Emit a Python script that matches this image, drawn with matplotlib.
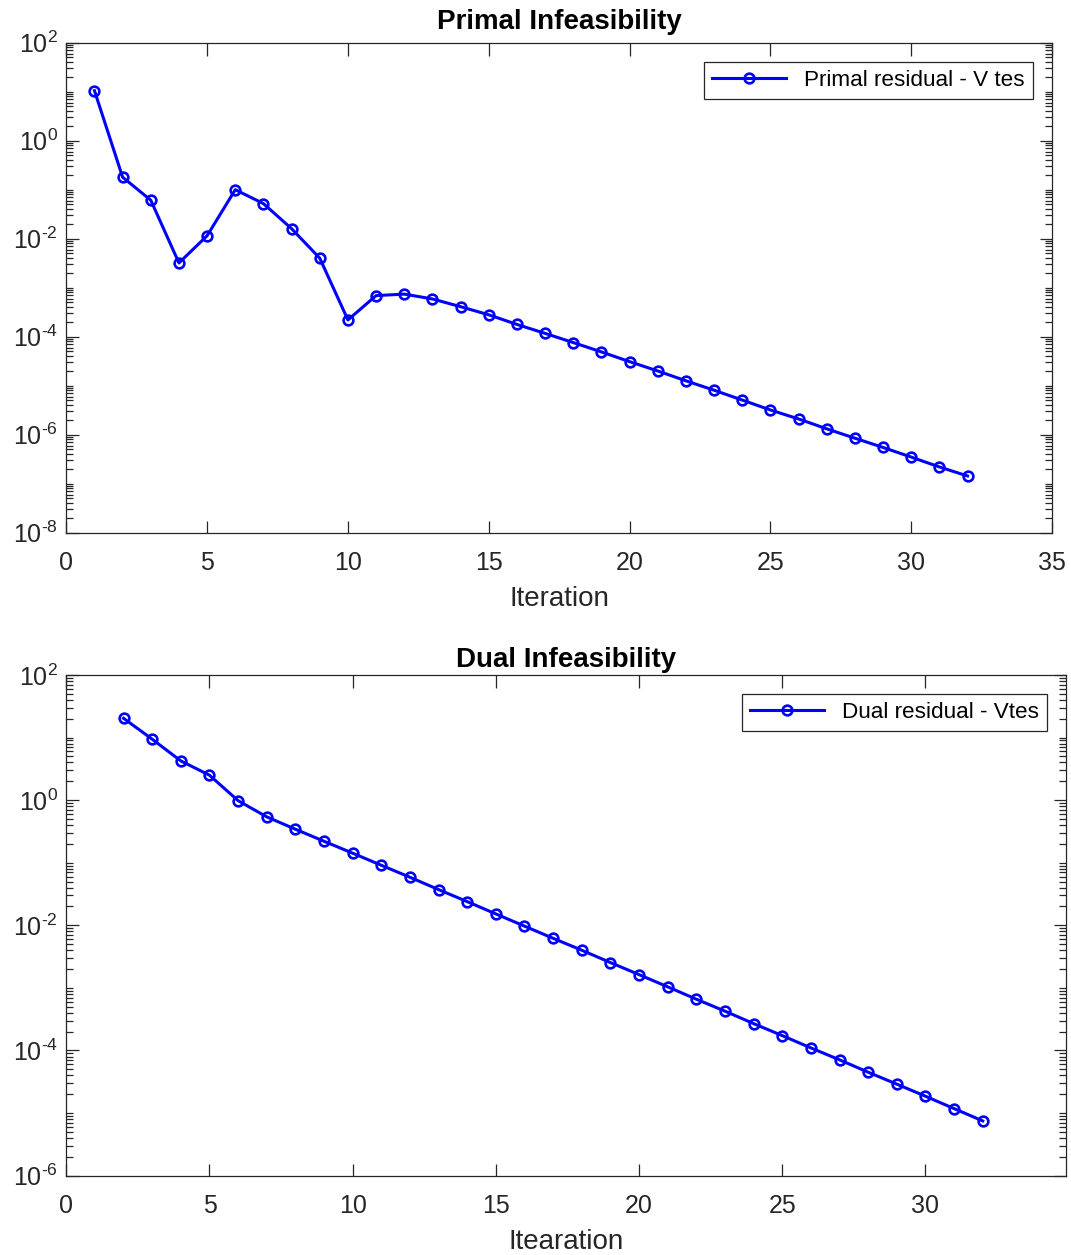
import numpy as np
import matplotlib
matplotlib.use('Agg')
import matplotlib.pyplot as plt
from matplotlib.ticker import FixedLocator, FuncFormatter, NullFormatter

plt.rcParams['font.family'] = ['Liberation Sans', 'DejaVu Sans']
plt.rcParams['mathtext.fontset'] = 'custom'
plt.rcParams['mathtext.rm'] = 'Liberation Sans'
plt.rcParams['mathtext.it'] = 'Liberation Sans:italic'
plt.rcParams['mathtext.bf'] = 'Liberation Sans:bold'
plt.rcParams['axes.unicode_minus'] = False

# residuos
iter_primal = np.arange(1, 33)
primal_res = [10.5, 0.18, 0.061, 0.0032, 0.0115, 0.1, 0.052, 0.016, 0.004, 2.2e-4,
              6.9e-4, 7.4e-4, 5.9e-4, 4.1e-4, 2.8e-4, 1.78e-4, 1.17e-4, 7.6e-5,
              4.9e-5, 3.1e-5, 2.0e-5, 1.26e-5, 8.1e-6, 5.1e-6, 3.2e-6, 2.1e-6,
              1.32e-6, 8.5e-7, 5.5e-7, 3.5e-7, 2.2e-7, 1.44e-7]

iter_dual = np.arange(2, 33)
dual_res = [20.3, 9.4, 4.23, 2.5, 0.98, 0.54, 0.343, 0.22, 0.142, 0.091, 0.0586,
            0.0372, 0.0239, 0.0152, 9.7e-3, 6.2e-3, 4.0e-3, 2.54e-3, 1.63e-3,
            1.04e-3, 6.6e-4, 4.25e-4, 2.69e-4, 1.73e-4, 1.10e-4, 7.1e-5, 4.5e-5,
            2.9e-5, 1.86e-5, 1.18e-5, 7.5e-6]

axcol = '#262626'


def rotulo_log(v, pos):
    e = int(round(np.log10(v)))
    return r'$\mathdefault{10^{\text{%d}}}$' % e


def estilo(ax, ymin_exp, ymax_exp, xlim, xticks):
    ax.set_yscale('log')
    ax.set_ylim(10.0**ymin_exp, 10.0**ymax_exp)
    ax.set_xlim(*xlim)
    ax.set_xticks(xticks)
    maiores = [10.0**e for e in range(ymin_exp, ymax_exp + 1, 2)]
    ax.yaxis.set_major_locator(FixedLocator(maiores))
    ax.yaxis.set_major_formatter(FuncFormatter(rotulo_log))
    menores = [m * 10.0**e for e in range(ymin_exp, ymax_exp) for m in range(1, 10)]
    menores = [v for v in menores if v not in maiores]
    ax.yaxis.set_minor_locator(FixedLocator(menores))
    ax.yaxis.set_minor_formatter(NullFormatter())
    ax.tick_params(which='both', direction='in', top=True, right=True, colors=axcol,
                   labelsize=18, width=0.9)
    ax.tick_params(which='major', length=9)
    ax.tick_params(which='minor', length=5)
    ax.tick_params(axis='x', pad=13)
    ax.tick_params(axis='y', pad=6)
    for s in ax.spines.values():
        s.set_color(axcol)
        s.set_linewidth(0.9)


fig = plt.figure(figsize=(10.71, 12.55), dpi=100)

ax1 = fig.add_axes([0.0619, 0.5755, 0.9204, 0.3905])
ax1.plot(iter_primal, primal_res, '-o', color='blue', lw=2.2, ms=7, mew=1.9,
         mfc='none', label='Primal residual - V tes')
estilo(ax1, -8, 2, (0, 35), range(0, 36, 5))
ax1.set_title('Primal Infeasibility', fontsize=20, fontweight='bold', pad=10)
ax1.set_xlabel('Iteration', fontsize=20, color=axcol, labelpad=8)
leg1 = ax1.legend(loc='upper right', fontsize=16.2, handlelength=3.3, fancybox=False,
                  framealpha=1, edgecolor=axcol, borderaxespad=0.85, borderpad=0.35)
leg1.get_frame().set_linewidth(0.9)

ax2 = fig.add_axes([0.0619, 0.0632, 0.9332, 0.399])
ax2.plot(iter_dual, dual_res, '-o', color='blue', lw=2.2, ms=7, mew=1.9,
         mfc='none', label='Dual residual - Vtes')
estilo(ax2, -6, 2, (0, 34.9), range(0, 31, 5))
ax2.set_title('Dual Infeasibility', fontsize=20, fontweight='bold', pad=6)
ax2.set_xlabel('Itearation', fontsize=20, color=axcol, labelpad=8)
leg2 = ax2.legend(loc='upper right', fontsize=16.2, handlelength=3.3, fancybox=False,
                  framealpha=1, edgecolor=axcol, borderaxespad=0.85, borderpad=0.35)
leg2.get_frame().set_linewidth(0.9)

fig.savefig('out.png', dpi=100)
